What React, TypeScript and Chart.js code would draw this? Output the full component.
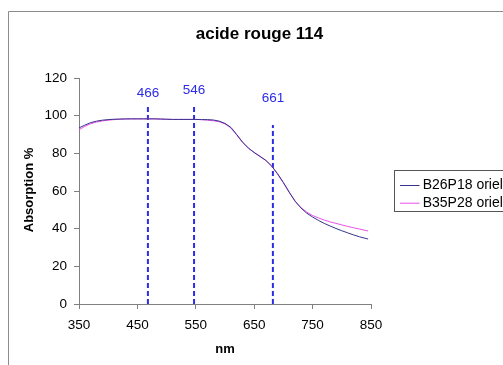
import React, { useEffect, useRef } from 'react';
import { Chart, registerables } from 'chart.js';

Chart.register(...registerables);

const FONT = "'Liberation Sans', Arial, sans-serif";

const chartTitle = 'acide rouge 114';
const xTitle = 'nm';
const yTitle = 'Absorption %';

const wavelengths = [
  350, 360, 370, 380, 390, 400, 410, 420, 430, 440, 450, 460, 470, 480, 490, 500, 510, 520, 530, 540,
  550, 560, 570, 580, 590, 600, 610, 620, 630, 640, 650, 660, 670, 680, 690, 700, 710, 720, 730, 740,
  750, 760, 770, 780, 790, 800, 810, 820, 830, 840, 845,
];

const seriesA = [
  93.5, 95.0, 96.3, 97.1, 97.6, 97.9, 98.1, 98.2, 98.3, 98.3, 98.3, 98.3, 98.3, 98.3, 98.2, 98.1, 98.0, 98.0, 98.0, 98.0,
  98.0, 97.9, 97.9, 97.7, 97.1, 95.9, 93.8, 90.0, 86.0, 82.8, 80.4, 78.3, 76.2, 73.2, 69.2, 64.5, 59.4, 54.6, 51.0, 48.2,
  46.2, 44.4, 42.8, 41.4, 40.1, 38.9, 37.8, 36.7, 35.7, 34.9, 34.5,
];

const seriesB = [
  92.5, 94.3, 95.7, 96.6, 97.2, 97.6, 97.9, 98.1, 98.2, 98.3, 98.3, 98.3, 98.3, 98.3, 98.2, 98.1, 98.0, 98.0, 98.0, 98.0,
  98.0, 97.9, 97.6, 97.3, 96.8, 95.6, 93.5, 89.8, 85.8, 82.7, 80.5, 78.5, 76.3, 73.2, 69.0, 64.3, 59.2, 54.6, 51.2, 48.8,
  47.0, 45.7, 44.6, 43.6, 42.8, 42.0, 41.2, 40.5, 39.8, 39.1, 38.8,
];

const seriesNames = ['B26P18 oriel', 'B35P28 oriel'];
const seriesColors = ['#34348c', '#ea50ea'];

const markerNm = [468, 547, 682];
const markerTop = [105, 105, 95];
const markerLabels = ['466', '546', '661'];
const markerLabelY = [112, 113.5, 109];
const markerColor = '#2b2bea';

export default function App() {
  const ref = useRef<HTMLCanvasElement>(null);

  useEffect(() => {
    const canvas = ref.current;
    if (!canvas) return;

    const datasets: any[] = [
      {
        label: seriesNames[0],
        data: wavelengths.map((x, i) => ({ x, y: seriesA[i] })),
        borderColor: seriesColors[0],
        borderWidth: 1,
        pointRadius: 0,
        tension: 0,
      },
      {
        label: seriesNames[1],
        data: wavelengths.map((x, i) => ({ x, y: seriesB[i] })),
        borderColor: seriesColors[1],
        borderWidth: 1,
        pointRadius: 0,
        tension: 0,
      },
      ...markerNm.map((nm, i) => ({
        label: 'marker ' + markerLabels[i],
        data: [
          { x: nm, y: 0 },
          { x: nm, y: markerTop[i] },
        ],
        borderColor: markerColor,
        borderWidth: 2,
        borderDash: [5, 3],
        pointRadius: 0,
      })),
    ];

    const decor = {
      id: 'decor',
      beforeDraw(chart: any) {
        const c = chart.ctx;
        c.save();
        c.fillStyle = '#ffffff';
        c.fillRect(0, 0, chart.width, chart.height);
        c.strokeStyle = '#8c8c8c';
        c.lineWidth = 1;
        c.beginPath();
        c.moveTo(8.5, chart.height);
        c.lineTo(8.5, 11.5);
        c.lineTo(chart.width, 11.5);
        c.stroke();
        c.restore();
      },
      afterDraw(chart: any) {
        const c = chart.ctx;
        const xs = chart.scales.x;
        const ys = chart.scales.y;
        c.save();
        // title
        c.fillStyle = '#000';
        c.textAlign = 'center';
        c.textBaseline = 'middle';
        c.font = `bold 17px ${FONT}`;
        c.fillText(chartTitle, 259.5, 34);
        // axis titles
        c.font = `bold 13px ${FONT}`;
        c.fillText(xTitle, 225, 349);
        c.save();
        c.translate(29, 190);
        c.rotate(-Math.PI / 2);
        c.fillText(yTitle, 0, 0);
        c.restore();
        // marker labels
        c.fillStyle = markerColor;
        c.font = `13.5px ${FONT}`;
        markerNm.forEach((nm, i) => {
          c.fillText(markerLabels[i], xs.getPixelForValue(nm), ys.getPixelForValue(markerLabelY[i]));
        });
        // legend
        const lx = 394.5;
        const ly = 170.5;
        c.strokeStyle = '#555';
        c.lineWidth = 1;
        c.strokeRect(lx, ly, 200, 41);
        c.font = `14px ${FONT}`;
        c.textAlign = 'left';
        c.fillStyle = '#000';
        const rows = [185, 202.7];
        for (let i = 0; i < 2; i++) {
          c.strokeStyle = seriesColors[i];
          c.beginPath();
          c.moveTo(400, rows[i] + 0.5);
          c.lineTo(419.5, rows[i] + 0.5);
          c.stroke();
          c.fillText(seriesNames[i], 422.7, rows[i] + 0.5);
        }
        c.restore();
      },
    };

    const chart = new Chart(canvas, {
      type: 'line',
      data: { datasets },
      options: {
        animation: false,
        responsive: false,
        devicePixelRatio: 1,
        layout: { padding: { left: 0, top: 78, right: 132, bottom: 0 } },
        plugins: {
          legend: { display: false },
          title: { display: false },
          tooltip: { enabled: false },
        },
        scales: {
          x: {
            type: 'linear',
            min: 350,
            max: 850,
            ticks: {
              stepSize: 100,
              color: '#000',
              font: { family: FONT, size: 13.5 },
              padding: 8,
              maxRotation: 0,
            },
            grid: { drawOnChartArea: false, tickLength: 5, color: '#808080' },
            border: { color: '#808080' },
            afterFit: (s: any) => {
              s.height = 61;
            },
          },
          y: {
            type: 'linear',
            min: 0,
            max: 120,
            ticks: {
              stepSize: 20,
              color: '#000',
              font: { family: FONT, size: 13.5 },
              padding: 7,
            },
            grid: { drawOnChartArea: false, tickLength: 5, color: '#808080' },
            border: { color: '#808080' },
            afterFit: (s: any) => {
              s.width = 79;
            },
          },
        },
      } as any,
      plugins: [decor],
    });

    return () => chart.destroy();
  }, []);

  return (
    <div
      style={{
        position: 'fixed',
        left: 0,
        top: 0,
        width: 503,
        height: 365,
        overflow: 'hidden',
        background: '#fff',
      }}
    >
      <canvas ref={ref} width={503} height={365} style={{ display: 'block', width: 503, height: 365 }} />
    </div>
  );
}
